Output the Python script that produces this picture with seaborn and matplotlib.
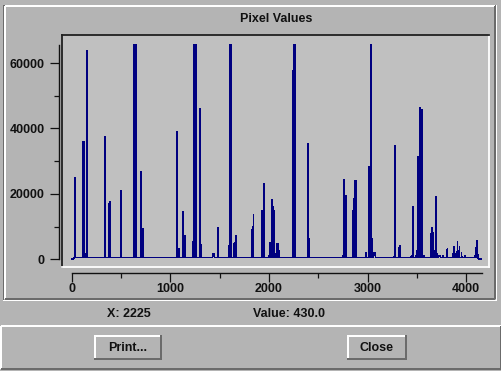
import matplotlib
matplotlib.use("Agg")
import numpy as np
import pandas as pd
import seaborn as sns
import matplotlib.pyplot as plt
from matplotlib.lines import Line2D
from matplotlib.ticker import MultipleLocator

# peaks in the pixel value trace: first channel, last channel, value
peak_start = [37, 117, 148, 158, 341, 381, 391, 503, 632, 706, 726, 1071, 1085, 1132, 1146,
              1233, 1240, 1305, 1312, 1430, 1487, 1598, 1607, 1649, 1659, 1669, 1829, 1843,
              1927, 1950, 2000, 2011, 2031, 2041, 2051, 2061, 2081, 2092, 2102, 2245, 2256,
              2396, 2406, 2755, 2762, 2770, 2856, 2866, 2876, 2885, 2985, 3015, 3022, 3035,
              3046, 3062, 3272, 3282, 3317, 3328, 3445, 3465, 3496, 3512, 3519, 3530, 3540,
              3557, 3645, 3655, 3684, 3697, 3720, 3768, 3810, 3868, 3878, 3891, 3900, 3912,
              3922, 3932, 3953, 3983, 4085, 4098, 4110, 4117]
peak_end = [37, 127, 150, 158, 341, 383, 391, 503, 650, 706, 726, 1071, 1085, 1132, 1146,
            1235, 1258, 1305, 1314, 1446, 1487, 1600, 1612, 1651, 1659, 1669, 1835, 1843,
            1940, 1950, 2002, 2011, 2031, 2041, 2051, 2063, 2081, 2092, 2102, 2252, 2262,
            2400, 2406, 2758, 2762, 2780, 2862, 2872, 2882, 2886, 2985, 3015, 3030, 3038,
            3046, 3080, 3274, 3282, 3324, 3328, 3455, 3465, 3500, 3512, 3519, 3536, 3550,
            3575, 3650, 3660, 3686, 3699, 3740, 3768, 3810, 3868, 3878, 3891, 3904, 3912,
            3922, 3932, 3953, 3993, 4095, 4102, 4110, 4117]
peak_value = [24860, 35870, 1600, 63700, 37370, 17000, 17520, 20890, 65535, 26700, 9270,
              38930, 3150, 14460, 7130, 5290, 65535, 45960, 4280, 1600, 9570, 4280, 65535,
              4890, 4890, 7130, 8960, 13550, 14680, 23030, 1000, 4980, 18040, 16090, 14770,
              1600, 4680, 4680, 2540, 57580, 65535, 35260, 6210, 1300, 24250, 19450, 16700,
              19450, 23950, 1000, 2020, 28320, 14460, 65535, 6210, 2020, 1000, 34650, 3460,
              4070, 1000, 15990, 2640, 31380, 3150, 46270, 45660, 1000, 7740, 9570, 2540,
              19050, 1000, 1000, 3150, 1600, 3770, 1300, 1600, 5290, 1300, 3770, 2000, 1000,
              1000, 3460, 5600, 1300]
baseline = 550
n_channels = 4149
first_live = 20
last_live = 4123

x_ticks = [0, 1000, 2000, 3000, 4000]
y_ticks = [0, 20000, 40000, 60000]

BG = "#b4b4b4"
PLOT_BG = "#c0c0c0"
DARK = "#6b6b6b"
LINE = "#000080"
FONT = "Liberation Sans"
W, H = 502, 371


def fx(px):
    return px / W


def fy(py):
    return 1 - py / H


def seg(fig, x0, y0, x1, y1, color, lw=1.0):
    fig.add_artist(Line2D([fx(x0), fx(x1)], [fy(y0), fy(y1)], color=color,
                          lw=lw * 0.72, antialiased=False, solid_capstyle="butt"))


def bevel(fig, x0, y0, x1, y1, light, dark, lw=1.0):
    seg(fig, x0, y0, x1, y0, light, lw)
    seg(fig, x0, y0, x0, y1, light, lw)
    seg(fig, x0, y1, x1, y1, dark, lw)
    seg(fig, x1, y0, x1, y1, dark, lw)


def button(fig, x0, y0, x1, y1, label):
    seg(fig, x0, y0 + 0.5, x1, y0 + 0.5, "white", 2)
    seg(fig, x0 + 0.5, y0, x0 + 0.5, y1, "white", 2)
    seg(fig, x0, y1 - 1, x1, y1 - 1, DARK, 2)
    seg(fig, x1 - 1, y0, x1 - 1, y1, DARK, 2)
    fig.text(fx((x0 + x1) / 2), fy((y0 + y1) / 2), label, ha="center", va="center",
             fontsize=9, fontweight="bold", family=FONT, color="#111111")


channels = np.arange(n_channels)
counts = np.full(n_channels, float(baseline))
counts[:first_live] = 0
counts[last_live + 1:] = 0
for s, e, v in zip(peak_start, peak_end, peak_value):
    counts[s:e + 1] = v
trace = pd.DataFrame({"channel": channels, "value": counts})

fig = plt.figure(figsize=(W / 100, H / 100), dpi=100, facecolor=BG)

# window frames
bevel(fig, 3.5, 4.5, 496, 300, DARK, "white")
bevel(fig, 5, 5.5, 495, 299, "white", DARK, 1.5)
bevel(fig, 0.5, 326, 501, 369, "white", DARK, 1.5)

# plot area
xlim = (-98, 4232)
ylim = (-2446, 68590)
ax = fig.add_axes([fx(62), fy(267.3), fx(489) - fx(62), fy(35) - fy(267.3)])
ax.set_facecolor(PLOT_BG)
sns.lineplot(data=trace, x="channel", y="value", ax=ax, color=LINE, linewidth=0.55,
             antialiased=False, estimator=None)
ax.set_xlim(*xlim)
ax.set_ylim(*ylim)
ax.set(xlabel="", ylabel="", xticks=[], yticks=[])
for side, col in [("top", "#202020"), ("left", "#202020"), ("bottom", "white"), ("right", "white")]:
    ax.spines[side].set_color(col)
    ax.spines[side].set_linewidth(1.3)

# separate y axis
axl = fig.add_axes([fx(58.7), fy(267.3), 0.0001, fy(35) - fy(267.3)])
axl.set_ylim(*ylim)
axl.patch.set_visible(False)
for side in ["top", "right", "bottom"]:
    axl.spines[side].set_visible(False)
axl.spines["left"].set_bounds(0, 65535)
axl.spines["left"].set_color("#111111")
axl.spines["left"].set_linewidth(1.0)
axl.set_xticks([])
axl.set_yticks(y_ticks)
axl.yaxis.set_minor_locator(MultipleLocator(10000))
axl.set_yticklabels([str(t) for t in y_ticks])
axl.tick_params(axis="y", which="major", direction="out", length=6.3, width=0.9, pad=4,
                color="#111111", labelcolor="#111111", labelsize=9)
axl.tick_params(axis="y", which="minor", direction="out", length=3.8, width=0.9, color="#111111")
for lab in axl.get_yticklabels():
    lab.set_fontfamily(FONT)
    lab.set_fontweight("bold")

# separate x axis
axb = fig.add_axes([fx(62), fy(272.7), fx(489) - fx(62), 0.0001])
axb.set_xlim(*xlim)
axb.patch.set_visible(False)
for side in ["top", "right", "left"]:
    axb.spines[side].set_visible(False)
axb.spines["bottom"].set_bounds(0, 4158)
axb.spines["bottom"].set_color("#111111")
axb.spines["bottom"].set_linewidth(1.0)
axb.set_yticks([])
axb.set_xticks(x_ticks)
axb.xaxis.set_minor_locator(MultipleLocator(500))
axb.set_xticklabels([str(t) for t in x_ticks])
axb.tick_params(axis="x", which="major", direction="out", length=6.5, width=0.9, pad=1,
                color="#111111", labelcolor="#111111", labelsize=9)
axb.tick_params(axis="x", which="minor", direction="out", length=3.6, width=0.9, color="#111111")
for lab in axb.get_xticklabels():
    lab.set_fontfamily(FONT)
    lab.set_fontweight("bold")

fig.text(fx(276), fy(19.3), "Pixel Values", ha="center", va="center", fontsize=9,
         fontweight="bold", family=FONT, color="#111111")
fig.text(fx(129.3), fy(314.3), "X: 2225", ha="center", va="center", fontsize=9,
         fontweight="bold", family=FONT, color="#111111")
fig.text(fx(289.3), fy(314.3), "Value: 430.0", ha="center", va="center", fontsize=9,
         fontweight="bold", family=FONT, color="#111111")

button(fig, 94.3, 335.3, 161.7, 360, "Print...")
button(fig, 347.3, 335.3, 406.7, 360, "Close")

fig.savefig("out.png", dpi=100, facecolor=BG)
